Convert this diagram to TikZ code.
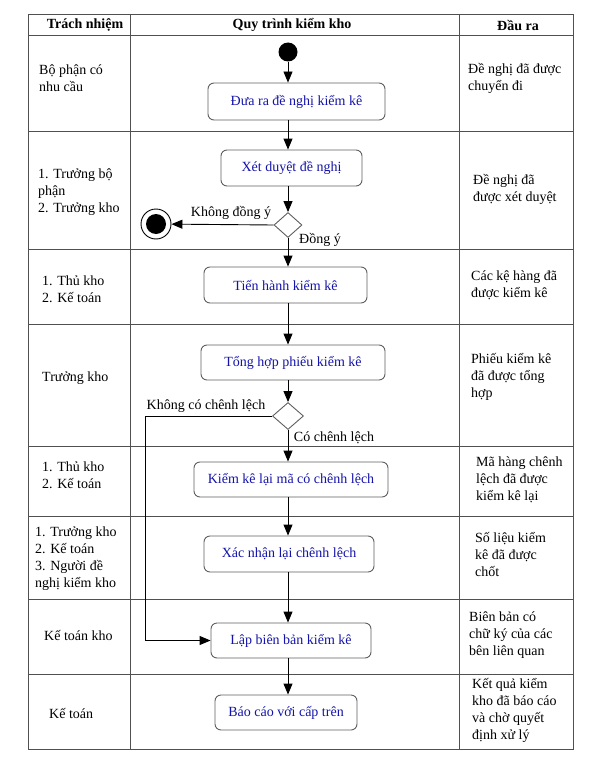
\documentclass[tikz,border=0pt]{standalone}
\usepackage{fontspec}
\setmainfont{Liberation Serif}
\usetikzlibrary{shapes.geometric,arrows.meta}
\definecolor{gridc}{RGB}{80,80,80}
\definecolor{boxc}{RGB}{95,95,95}
\definecolor{txtblue}{RGB}{20,20,170}
\tikzset{
  x=1pt,y=-1pt,
  grid/.style={draw=gridc,line width=0.9pt},
  act/.style={draw=boxc,line width=0.9pt,rounded corners=6pt,fill=white,text=txtblue,
    font=\fontsize{14}{17}\selectfont,inner sep=0pt},
  dec/.style={diamond,draw=boxc,line width=0.9pt,fill=white,inner sep=0pt},
  cell/.style={align=left,anchor=west,inner sep=0pt,font=\fontsize{14}{17}\selectfont},
  head/.style={inner sep=0pt,font=\fontsize{14}{17}\selectfont\bfseries},
  lbl/.style={inner sep=0pt,font=\fontsize{14}{17}\selectfont},
  arr/.style={draw=black,line width=0.9pt,-{Triangle[length=11pt,width=9pt]}},
}
\begin{document}
\begin{tikzpicture}
\useasboundingbox (0,0) rectangle (600,776);
% table
\draw[grid] (28,14) rectangle (573,749);
\draw[grid] (130,14) -- (130,749);
\draw[grid] (459,14) -- (459,749);
\foreach \yy in {35,131,249,324,446,516,599,674}{
  \draw[grid] (28,\yy) -- (573,\yy);
}
% headers
\node[head] (h1) at (85,25) {Trách nhiệm};
\node[head] (h2) at (292,25) {Quy trình kiểm kho};
\node[head] (h3) at (518,25) {Đầu ra};
% left column
\node[cell] (l1) at (39,78.5) {Bộ phận có\\nhu cầu};
\node[cell] (l2) at (38,192) {1. Trưởng bộ\\phận\\2. Trưởng kho};
\node[cell] (l3) at (42,289) {1. Thủ kho\\2. Kế toán};
\node[cell] (l4) at (42,378) {Trưởng kho};
\node[cell] (l5) at (42,475) {1. Thủ kho\\2. Kế toán};
\node[cell] (l6) at (35,559) {1. Trưởng kho\\2. Kế toán\\3. Người đề\\nghị kiểm kho};
\node[cell] (l7) at (44,635) {Kế toán kho};
\node[cell] (l8) at (49,713) {Kế toán};
% right column
\node[cell] (r1) at (468,78.5) {Đề nghị đã được\\chuyển đi};
\node[cell] (r2) at (473,189.5) {Đề nghị đã\\được xét duyệt};
\node[cell] (r3) at (471,285) {Các kệ hàng đã\\được kiểm kê};
\node[cell] (r4) at (471,377) {Phiếu kiểm kê\\đã được tổng\\hợp};
\node[cell] (r5) at (476,480) {Mã hàng chênh\\lệch đã được\\kiểm kê lại};
\node[cell] (r6) at (475,554) {Số liệu kiểm\\kê đã được\\chốt};
\node[cell] (r7) at (469,635.5) {Biên bản có\\chữ ký của các\\bên liên quan};
\node[cell] (r8) at (472,710.5) {Kết quả kiểm\\kho đã báo cáo\\và chờ quyết\\định xử lý};
% flow
\coordinate (ax) at (288,0);
\coordinate (loopx) at (145,0);
\node[circle,fill=black,minimum size=19pt,inner sep=0pt] (start) at (288,52) {};
\node[act,minimum width=177pt,minimum height=37pt] (b1) at (296.5,101.5) {Đưa ra đề nghị kiểm kê};
\node[act,minimum width=141pt,minimum height=36pt] (b2) at (291.5,168) {Xét duyệt đề nghị};
\node[dec,minimum width=28pt,minimum height=25pt] (d1) at (288,225) {};
\node[circle,draw=black,line width=0.9pt,minimum size=30pt,inner sep=0pt] (end) at (156,224) {};
\node[circle,fill=black,minimum size=20pt,inner sep=0pt] (endin) at (end.center) {};
\node[act,minimum width=163pt,minimum height=36pt] (b3) at (285.5,285) {Tiến hành kiểm kê};
\node[act,minimum width=184pt,minimum height=35pt] (b4) at (293,362.5) {Tổng hợp phiếu kiểm kê};
\node[dec,minimum width=31pt,minimum height=27pt] (d2) at (288,416) {};
\node[act,minimum width=194pt,minimum height=35pt] (b5) at (291,479.5) {Kiểm kê lại mã có chênh lệch};
\node[act,minimum width=170pt,minimum height=36pt] (b6) at (289,554) {Xác nhận lại chênh lệch};
\node[act,minimum width=160pt,minimum height=35pt] (b7) at (291,640.5) {Lập biên bản kiểm kê};
\node[act,minimum width=142pt,minimum height=35pt] (b8) at (286,712.5) {Báo cáo với cấp trên};
% labels
\node[lbl] (t1) at (231,213) {Không đồng ý};
\node[lbl] (t2) at (320,240) {Đồng ý};
\node[lbl] (t3) at (206,406) {Không có chênh lệch};
\node[lbl] (t4) at (334,438) {Có chênh lệch};
% arrows
\draw[arr] (start) -- (b1.north -| ax);
\draw[arr] (b1.south -| ax) -- (b2.north -| ax);
\draw[arr] (b2.south -| ax) -- (d1.north);
\draw[arr] (d1.west) -- (end);
\draw[arr] (d1.south) -- (b3.north -| ax);
\draw[arr] (b3.south -| ax) -- (b4.north -| ax);
\draw[arr] (b4.south -| ax) -- (d2.north);
\draw[arr] (d2.south) -- (b5.north -| ax);
\draw[arr] (b5.south -| ax) -- (b6.north -| ax);
\draw[arr] (b6.south -| ax) -- (b7.north -| ax);
\draw[arr] (b7.south -| ax) -- (b8.north -| ax);
\draw[arr] (d2.west) -- (d2.west -| loopx) |- (b7.west);
\end{tikzpicture}
\end{document}
